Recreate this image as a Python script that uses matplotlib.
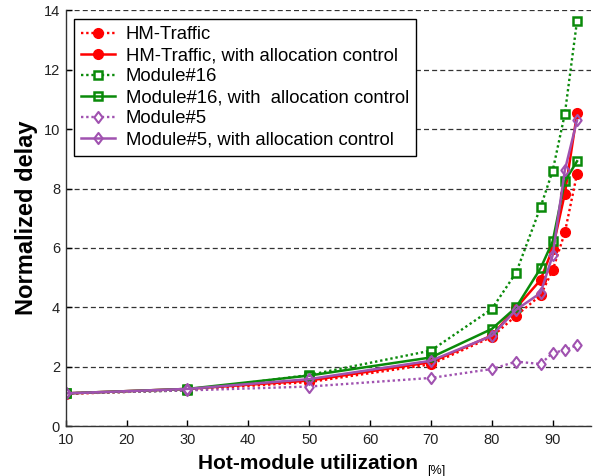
import matplotlib
matplotlib.use("Agg")
from matplotlib import pyplot as plt
from matplotlib.path import Path

# utilization points [%]
util = [10, 30, 50, 70, 80, 84, 88, 90, 92, 94]

# normalized delay
hm_traffic = [1.08, 1.22, 1.48, 2.08, 3.0, 3.72, 4.4, 5.25, 6.52, 8.5]
hm_traffic_ctrl = [1.1, 1.25, 1.53, 2.15, 3.05, 3.98, 4.92, 5.98, 7.83, 10.53]
module16 = [1.1, 1.2, 1.72, 2.54, 3.94, 5.17, 7.37, 8.6, 10.52, 13.65]
module16_ctrl = [1.1, 1.25, 1.7, 2.31, 3.27, 4.0, 5.31, 6.22, 8.25, 8.92]
module5 = [1.1, 1.2, 1.33, 1.62, 1.92, 2.17, 2.09, 2.46, 2.56, 2.72]
module5_ctrl = [1.1, 1.25, 1.58, 2.2, 3.04, 3.92, 4.48, 5.75, 8.62, 10.3]

labels = ["HM-Traffic", "HM-Traffic, with allocation control",
          "Module#16", "Module#16, with  allocation control",
          "Module#5", "Module#5, with allocation control"]

RED = "#ff0000"
GREEN = "#0a8a0a"
PURPLE = "#a052b0"

# 少し幅のあるひし形マーカー
diamond = Path([(0, 1), (0.75, 0), (0, -1), (-0.75, 0), (0, 1)],
               [Path.MOVETO, Path.LINETO, Path.LINETO, Path.LINETO, Path.CLOSEPOLY])

DOT = (0, (1, 1.2))

plt.rcParams["font.family"] = ["Liberation Sans", "DejaVu Sans"]

fig = plt.figure(figsize=(5.97, 4.76), dpi=100)
ax = fig.add_axes([0.11, 0.105, 0.88, 0.873])

# 赤: HM-Traffic
ax.plot(util, hm_traffic, linestyle=DOT, color=RED, lw=1.7, marker="o", ms=7,
        label=labels[0])
ax.plot(util, hm_traffic_ctrl, "-", color=RED, lw=1.8, marker="o", ms=7,
        label=labels[1])
# 緑: Module#16
ax.plot(util, module16, linestyle=DOT, color=GREEN, lw=1.7, marker="s", ms=6,
        mfc="white", mew=1.8, label=labels[2])
ax.plot(util, module16_ctrl, "-", color=GREEN, lw=1.8, marker="s", ms=6,
        mfc="none", mew=1.8, label=labels[3])
# 紫: Module#5
ax.plot(util, module5, linestyle=DOT, color=PURPLE, lw=1.7, marker=diamond, ms=8,
        mfc="white", mew=1.5, label=labels[4])
ax.plot(util, module5_ctrl, "-", color=PURPLE, lw=1.8, marker=diamond, ms=8,
        mfc="none", mew=1.5, label=labels[5])

ax.set_xlim(10, 96.3)
ax.set_ylim(0, 14)
ax.set_xticks([10, 20, 30, 40, 50, 60, 70, 80, 90])
ax.set_yticks([0, 2, 4, 6, 8, 10, 12, 14])
ax.tick_params(direction="in", length=4, width=1, labelsize=10.5,
               labelcolor="#222222")
ax.tick_params(axis="y", pad=4)
ax.tick_params(axis="x", pad=5)

ax.spines["top"].set_visible(False)
ax.spines["right"].set_visible(False)
for s in ("left", "bottom"):
    ax.spines[s].set_color("#333333")
    ax.spines[s].set_linewidth(1)

ax.yaxis.grid(True, color="#333333", lw=0.9, linestyle=(0, (4, 2.5)))
ax.set_axisbelow(True)

ax.set_ylabel("Normalized delay", fontsize=17, fontweight="bold", labelpad=4)
ax.annotate("Hot-module utilization", xy=(0.5, 0), xycoords="axes fraction",
            xytext=(-15, -20), textcoords="offset points", ha="center", va="top",
            fontsize=15, fontweight="bold")
ax.annotate("[%]", xy=(0.5, 0), xycoords="axes fraction",
            xytext=(71, -28), textcoords="offset points", ha="left", va="top",
            fontsize=9)

leg = ax.legend(loc="upper left", fontsize=13.3, frameon=True, fancybox=False,
                edgecolor="black", framealpha=1, labelspacing=0.22,
                handlelength=1.8, handletextpad=0.6, borderpad=0.4,
                borderaxespad=0.45)
leg.get_frame().set_linewidth(1)

fig.savefig("out.png", dpi=100)
